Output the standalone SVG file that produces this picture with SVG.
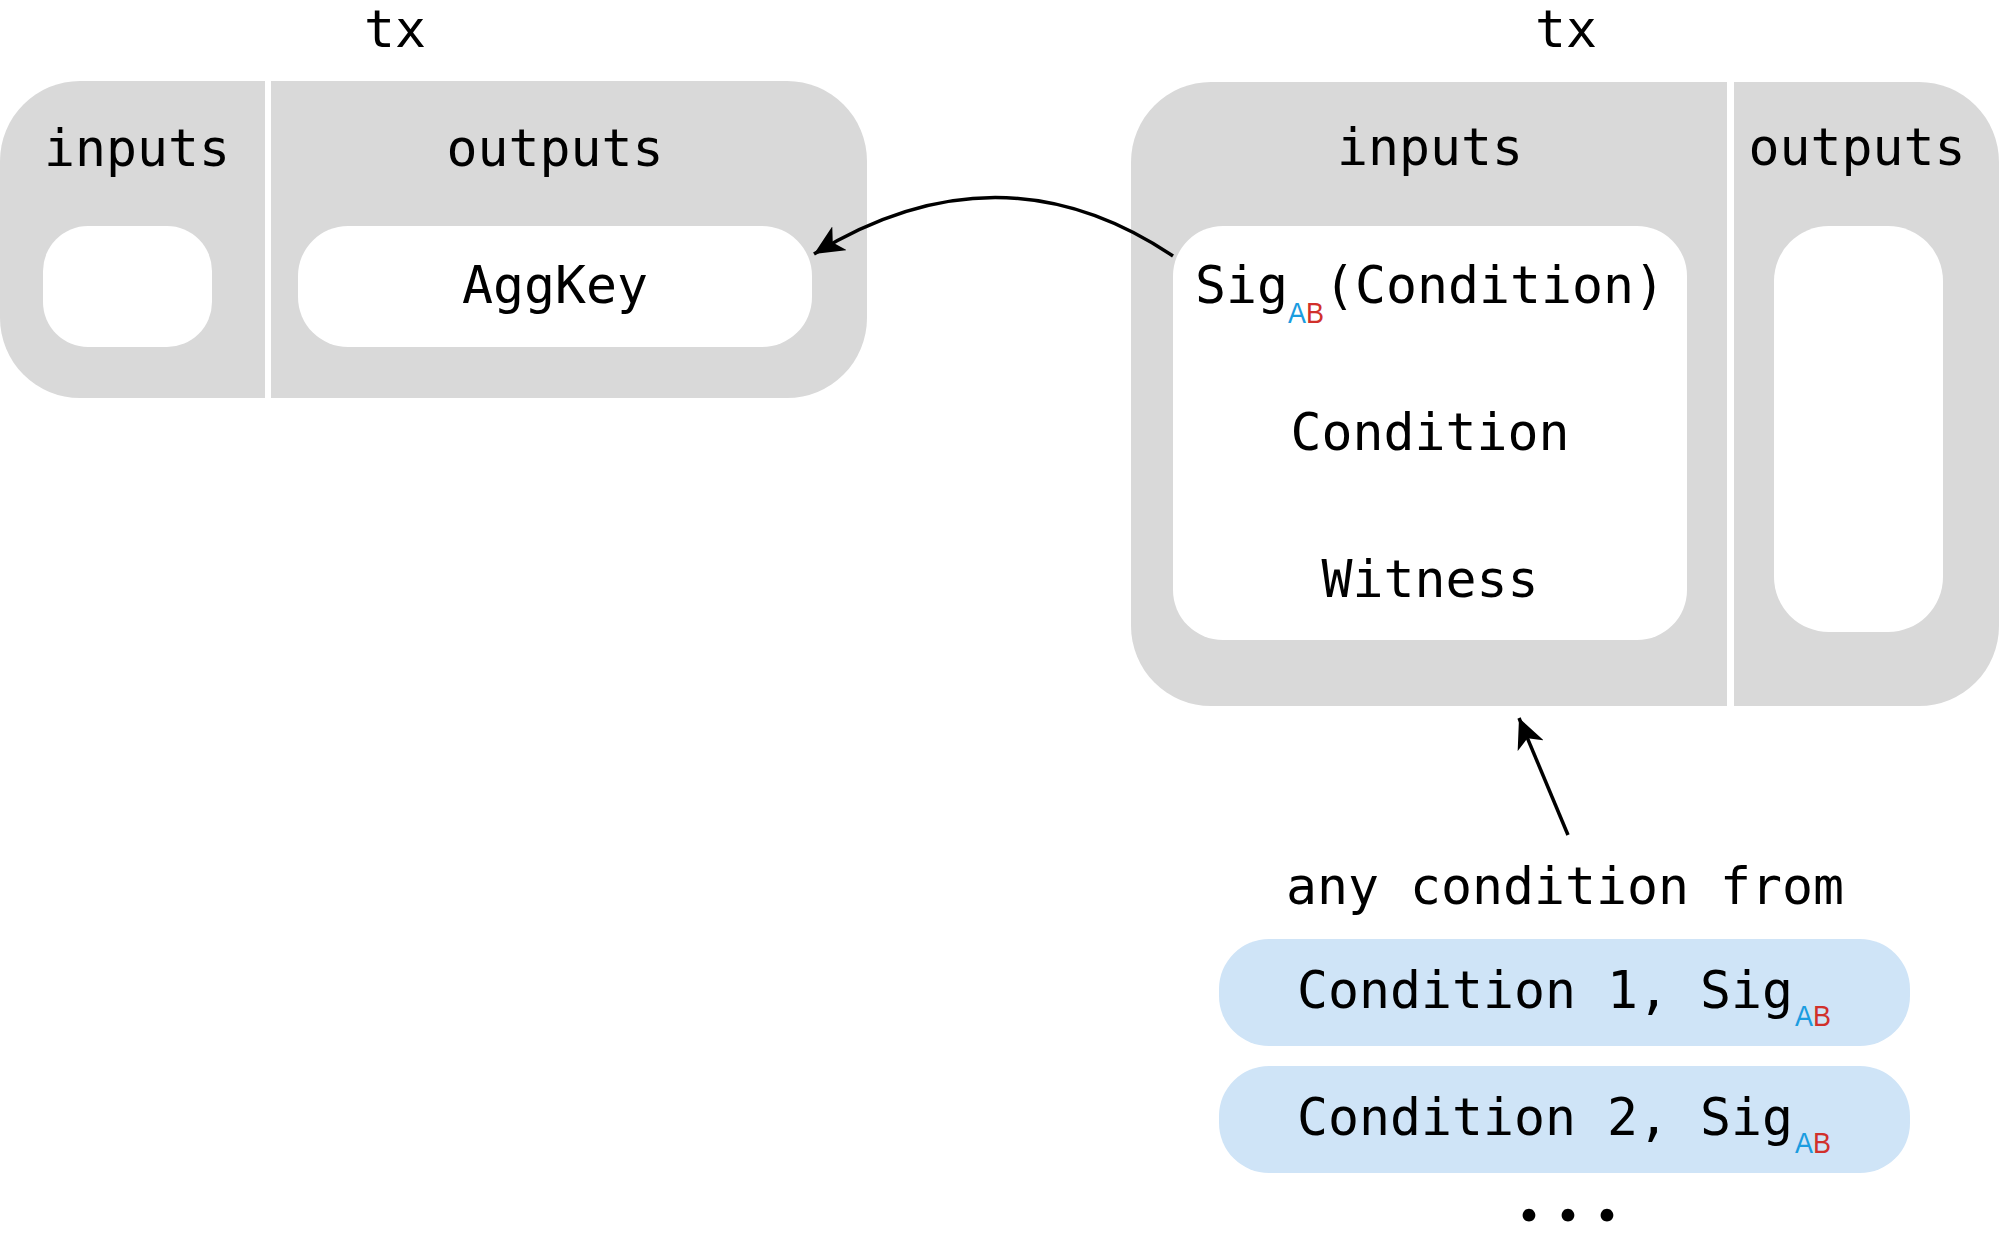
<svg xmlns="http://www.w3.org/2000/svg" width="1999" height="1243" viewBox="0 0 1999 1243">
<defs>
<style>
.t{font-family:"DejaVu Sans Mono","Liberation Mono",monospace;font-size:51.5px;fill:#000}
.c{text-anchor:middle}
.sub{font-family:"Liberation Sans","Open Sans",sans-serif;font-size:29px}
.a{fill:#1b9ce0}
.b{fill:#d1302b}
.gray{fill:#d9d9d9}
.white{fill:#ffffff}
.blue{fill:#cfe4f7}
.conn{fill:none;stroke:#000;stroke-width:3.5}
.dots{font-family:Lato,"Noto Sans",sans-serif;font-weight:bold;font-size:84px;text-anchor:middle;fill:#000}
</style>
<marker id="arr" markerUnits="userSpaceOnUse" viewBox="0 0 30 28" refX="30" refY="14" markerWidth="30" markerHeight="28" orient="auto">
<path d="M0,0 L30,14 L0,28 L8,14 z" fill="#000"/>
</marker>
</defs>
<rect width="1999" height="1243" fill="#fff"/>

<g id="tx-left">
<text class="t c" x="395" y="47">tx</text>
<rect class="gray" x="0" y="81" width="867" height="317" rx="80" ry="80"/>
<rect class="white" x="265" y="81" width="6" height="317"/>
<text class="t c" x="137" y="166">inputs</text>
<text class="t c" x="555" y="166">outputs</text>
<rect class="white" x="43" y="226" width="169" height="121" rx="45" ry="45"/>
<rect id="aggkey" class="white" x="298" y="226" width="514" height="121" rx="50" ry="50"/>
<text class="t c" x="555" y="303">AggKey</text>
</g>

<g id="tx-right">
<text class="t c" x="1566" y="47">tx</text>
<rect class="gray" x="1131" y="82" width="868" height="624" rx="80" ry="80"/>
<rect class="white" x="1727" y="82" width="7" height="624"/>
<text class="t c" x="1430" y="165">inputs</text>
<text class="t c" x="1857" y="165">outputs</text>
<rect id="input-box" class="white" x="1173" y="226" width="514" height="414" rx="50" ry="50"/>
<rect class="white" x="1774" y="226" width="169" height="406" rx="55" ry="55"/>
<text class="t" x="1195" y="303">Sig</text>
<text class="sub" x="1288" y="323" textLength="36" lengthAdjust="spacingAndGlyphs"><tspan class="a">A</tspan><tspan class="b">B</tspan></text>
<text class="t" x="1324" y="303">(Condition)</text>
<text class="t c" x="1430" y="450">Condition</text>
<text class="t c" x="1430" y="597">Witness</text>
</g>

<g id="conditions">
<text class="t c" x="1565" y="904">any condition from</text>
<rect class="blue" x="1219" y="939" width="691" height="107" rx="50" ry="50"/>
<text class="t" x="1297" y="1008">Condition 1, Sig</text>
<text class="sub" x="1795" y="1026" textLength="36" lengthAdjust="spacingAndGlyphs"><tspan class="a">A</tspan><tspan class="b">B</tspan></text>
<rect class="blue" x="1219" y="1066" width="691" height="107" rx="50" ry="50"/>
<text class="t" x="1297" y="1135">Condition 2, Sig</text>
<text class="sub" x="1795" y="1153" textLength="36" lengthAdjust="spacingAndGlyphs"><tspan class="a">A</tspan><tspan class="b">B</tspan></text>
<text class="dots" x="1529 1568 1607" y="1221">...</text>
</g>

<g id="connectors">
<path class="conn" d="M1173,256 Q1000,140 814,254" marker-end="url(#arr)"/>
<path class="conn" d="M1568,835 L1519,718" marker-end="url(#arr)"/>
</g>
</svg>
